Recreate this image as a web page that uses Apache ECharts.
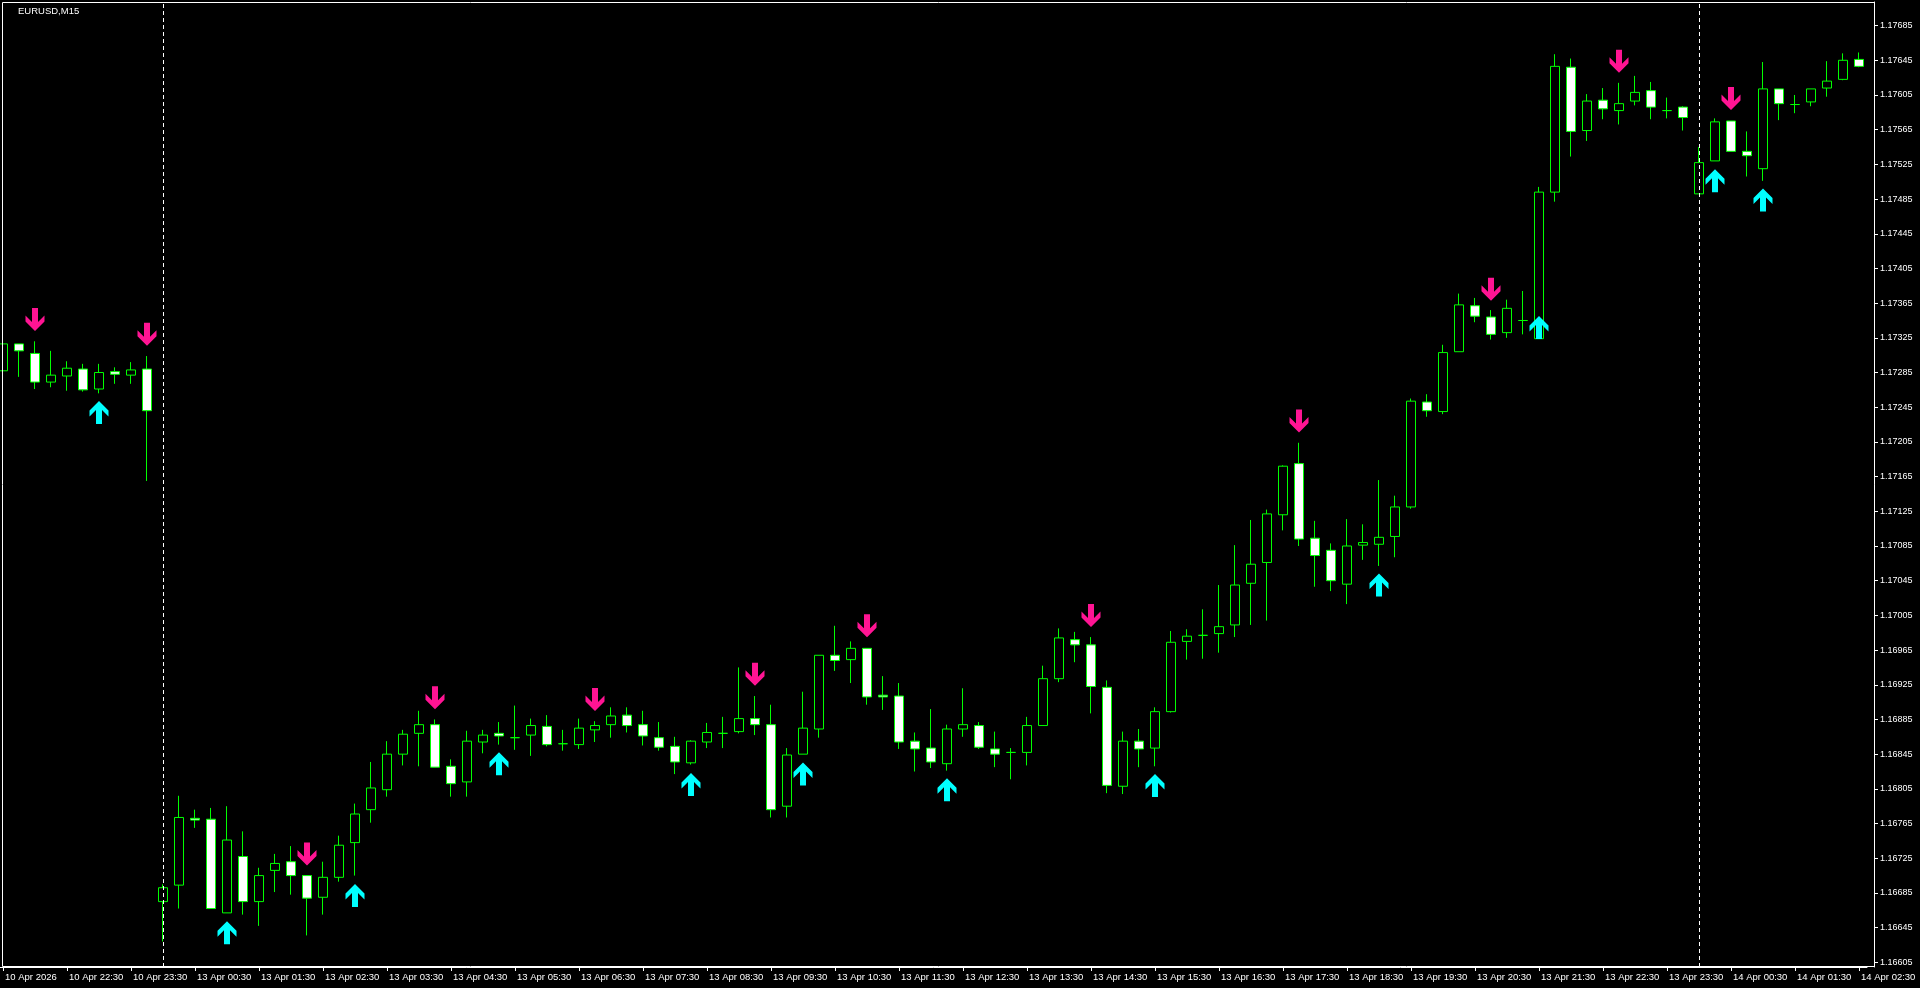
<!DOCTYPE html>
<html><head><meta charset="utf-8">
<script src="https://cdn.jsdelivr.net/npm/echarts@6/dist/echarts.min.js"></script>
<style>html,body{margin:0;padding:0;background:#000;}#chart{width:1920px;height:988px;}</style>
</head><body><div id="chart"></div>
<script>
const symbolTitle = 'EURUSD,M15';
// [day, first bar minute of day, bar count] – 15 minute bars
const barBlocks = [['10 Apr', 21 * 60 + 30, 10], ['13 Apr', 0, 96], ['14 Apr', 0, 11]];
const firstTickLabel = '10 Apr 2026';
const periodSeparators = ['13 Apr 00:00', '14 Apr 00:00'];
const priceTicks = [1.16605, 1.16645, 1.16685, 1.16725, 1.16765, 1.16805, 1.16845, 1.16885, 1.16925, 1.16965,
  1.17005, 1.17045, 1.17085, 1.17125, 1.17165, 1.17205, 1.17245, 1.17285, 1.17325, 1.17365,
  1.17405, 1.17445, 1.17485, 1.17525, 1.17565, 1.17605, 1.17645, 1.17685];

// bars: [open, close, low, high]
const apr10Bars = [
  [1.17287, 1.17318, 1.17281, 1.17348],
  [1.17318, 1.17310, 1.17280, 1.17318],
  [1.17307, 1.17274, 1.17266, 1.17321],
  [1.17274, 1.17282, 1.17268, 1.17310],
  [1.17281, 1.17290, 1.17264, 1.17298],
  [1.17289, 1.17265, 1.17263, 1.17295],
  [1.17266, 1.17285, 1.17261, 1.17295],
  [1.17286, 1.17283, 1.17272, 1.17291],
  [1.17282, 1.17288, 1.17272, 1.17297],
  [1.17289, 1.17241, 1.17160, 1.17304]
];
const apr13Bars = [
  [1.16675, 1.16691, 1.16629, 1.16695],
  [1.16694, 1.16772, 1.16667, 1.16797],
  [1.16771, 1.16769, 1.16760, 1.16781],
  [1.16770, 1.16667, 1.16667, 1.16783],
  [1.16662, 1.16746, 1.16662, 1.16785],
  [1.16727, 1.16675, 1.16660, 1.16756],
  [1.16675, 1.16705, 1.16647, 1.16714],
  [1.16711, 1.16719, 1.16686, 1.16730],
  [1.16721, 1.16705, 1.16683, 1.16739],
  [1.16705, 1.16679, 1.16636, 1.16705],
  [1.16680, 1.16703, 1.16660, 1.16721],
  [1.16703, 1.16740, 1.16698, 1.16751],
  [1.16743, 1.16776, 1.16705, 1.16788],
  [1.16781, 1.16806, 1.16766, 1.16836],
  [1.16804, 1.16845, 1.16796, 1.16860],
  [1.16845, 1.16868, 1.16832, 1.16873],
  [1.16869, 1.16879, 1.16831, 1.16895],
  [1.16879, 1.16830, 1.16830, 1.16885],
  [1.16831, 1.16811, 1.16796, 1.16839],
  [1.16813, 1.16860, 1.16796, 1.16872],
  [1.16859, 1.16867, 1.16846, 1.16873],
  [1.16869, 1.16866, 1.16856, 1.16882],
  [1.16864, 1.16864, 1.16850, 1.16901],
  [1.16867, 1.16878, 1.16843, 1.16886],
  [1.16877, 1.16856, 1.16854, 1.16890],
  [1.16857, 1.16857, 1.16849, 1.16873],
  [1.16856, 1.16875, 1.16851, 1.16886],
  [1.16873, 1.16878, 1.16859, 1.16883],
  [1.16879, 1.16889, 1.16864, 1.16899],
  [1.16890, 1.16878, 1.16870, 1.16899],
  [1.16879, 1.16866, 1.16855, 1.16895],
  [1.16864, 1.16853, 1.16849, 1.16882],
  [1.16854, 1.16836, 1.16822, 1.16865],
  [1.16835, 1.16860, 1.16833, 1.16861],
  [1.16859, 1.16870, 1.16852, 1.16881],
  [1.16869, 1.16869, 1.16852, 1.16888],
  [1.16871, 1.16886, 1.16869, 1.16945],
  [1.16886, 1.16879, 1.16867, 1.16912],
  [1.16879, 1.16781, 1.16772, 1.16902],
  [1.16785, 1.16844, 1.16772, 1.16852],
  [1.16845, 1.16875, 1.16845, 1.16917],
  [1.16874, 1.16959, 1.16864, 1.16959],
  [1.16959, 1.16953, 1.16941, 1.16993],
  [1.16954, 1.16967, 1.16927, 1.16975],
  [1.16967, 1.16911, 1.16902, 1.16967],
  [1.16913, 1.16911, 1.16896, 1.16935],
  [1.16912, 1.16859, 1.16851, 1.16927],
  [1.16860, 1.16851, 1.16825, 1.16870],
  [1.16852, 1.16836, 1.16829, 1.16897],
  [1.16834, 1.16874, 1.16826, 1.16879],
  [1.16874, 1.16879, 1.16865, 1.16921],
  [1.16878, 1.16853, 1.16851, 1.16882],
  [1.16851, 1.16845, 1.16830, 1.16871],
  [1.16847, 1.16847, 1.16816, 1.16852],
  [1.16847, 1.16878, 1.16832, 1.16888],
  [1.16878, 1.16932, 1.16878, 1.16947],
  [1.16932, 1.16979, 1.16928, 1.16990],
  [1.16977, 1.16971, 1.16951, 1.16986],
  [1.16971, 1.16923, 1.16892, 1.16980],
  [1.16922, 1.16809, 1.16800, 1.16930],
  [1.16808, 1.16860, 1.16799, 1.16871],
  [1.16860, 1.16851, 1.16830, 1.16874],
  [1.16852, 1.16894, 1.16831, 1.16899],
  [1.16894, 1.16974, 1.16893, 1.16987],
  [1.16975, 1.16981, 1.16954, 1.16989],
  [1.16982, 1.16982, 1.16955, 1.17012],
  [1.16984, 1.16992, 1.16962, 1.17040],
  [1.16994, 1.17040, 1.16980, 1.17086],
  [1.17042, 1.17064, 1.16994, 1.17115],
  [1.17066, 1.17122, 1.16999, 1.17127],
  [1.17121, 1.17177, 1.17103, 1.17178],
  [1.17180, 1.17093, 1.17085, 1.17204],
  [1.17094, 1.17074, 1.17038, 1.17114],
  [1.17080, 1.17045, 1.17033, 1.17088],
  [1.17041, 1.17085, 1.17018, 1.17116],
  [1.17086, 1.17089, 1.17069, 1.17110],
  [1.17087, 1.17095, 1.17062, 1.17161],
  [1.17096, 1.17130, 1.17072, 1.17143],
  [1.17130, 1.17252, 1.17128, 1.17255],
  [1.17251, 1.17241, 1.17234, 1.17260],
  [1.17240, 1.17308, 1.17237, 1.17317],
  [1.17309, 1.17363, 1.17309, 1.17376],
  [1.17362, 1.17350, 1.17343, 1.17371],
  [1.17349, 1.17329, 1.17323, 1.17357],
  [1.17331, 1.17359, 1.17325, 1.17369],
  [1.17345, 1.17345, 1.17329, 1.17379],
  [1.17324, 1.17493, 1.17324, 1.17499],
  [1.17493, 1.17638, 1.17482, 1.17652],
  [1.17637, 1.17563, 1.17534, 1.17647],
  [1.17564, 1.17598, 1.17552, 1.17606],
  [1.17599, 1.17589, 1.17577, 1.17613],
  [1.17587, 1.17595, 1.17571, 1.17619],
  [1.17598, 1.17608, 1.17593, 1.17627],
  [1.17610, 1.17591, 1.17577, 1.17620],
  [1.17587, 1.17587, 1.17578, 1.17602],
  [1.17591, 1.17579, 1.17564, 1.17592]
];
const apr14Bars = [
  [1.17491, 1.17527, 1.17491, 1.17545],
  [1.17529, 1.17574, 1.17529, 1.17578],
  [1.17575, 1.17540, 1.17540, 1.17575],
  [1.17540, 1.17535, 1.17511, 1.17563],
  [1.17520, 1.17612, 1.17506, 1.17643],
  [1.17612, 1.17595, 1.17576, 1.17612],
  [1.17594, 1.17594, 1.17584, 1.17605],
  [1.17597, 1.17612, 1.17592, 1.17612],
  [1.17613, 1.17621, 1.17603, 1.17644],
  [1.17623, 1.17645, 1.17622, 1.17653],
  [1.17646, 1.17638, 1.17637, 1.17654]
];
// arrow signals: [bar index, price at arrow centre]
const buySignals = [[6, 1.17239], [14, 1.16639], [22, 1.16682], [31, 1.16834], [43, 1.16810], [50, 1.16822],
  [59, 1.16804], [72, 1.16809], [86, 1.17040], [96, 1.17337], [107, 1.17506], [110, 1.17484]];
const sellSignals = [[2, 1.17346], [9, 1.17329], [19, 1.16730], [27, 1.16910], [37, 1.16908], [47, 1.16937],
  [54, 1.16993], [68, 1.17005], [81, 1.17229], [93, 1.17381], [101, 1.17644], [108, 1.17601]];

const categories = [];
barBlocks.forEach(([day, start, count]) => {
  for (let k = 0; k < count; k++) {
    const m = start + 15 * k;
    const hh = String(Math.floor(m / 60)).padStart(2, '0');
    const mm = String(m % 60).padStart(2, '0');
    categories.push(day + ' ' + hh + ':' + mm);
  }
});
const bars = apr10Bars.concat(apr13Bars, apr14Bars);

const FONT = '"Liberation Sans", Arial, sans-serif';
const GREEN = '#00FF00';
const upPath = 'path://M9.5 0 L19 9.5 L19 15.5 L12.5 9 L12.5 23 L6.5 23 L6.5 9 L0 15.5 L0 9.5 Z';
const downPath = 'path://M9.5 23 L19 13.5 L19 7.5 L12.5 14 L12.5 0 L6.5 0 L6.5 14 L0 7.5 L0 13.5 Z';

const chart = echarts.init(document.getElementById('chart'), null, { renderer: 'canvas' });
chart.setOption({
  backgroundColor: '#000000',
  animation: false,
  grid: { left: -5, top: 2, width: 1872, height: 965, containLabel: false, outerBoundsMode: 'none' },
  xAxis: {
    type: 'category', data: categories, boundaryGap: true,
    axisLine: { show: true, lineStyle: { color: '#ffffff', width: 1 } },
    axisTick: { show: true, interval: 3, alignWithLabel: true, length: 4, lineStyle: { color: '#ffffff' } },
    axisLabel: {
      interval: 3, align: 'left', padding: [0, 0, 0, 2], margin: 5,
      color: '#ffffff', fontSize: 9.5, fontFamily: FONT,
      formatter: (v, idx) => idx === 0 ? firstTickLabel : v
    },
    splitLine: { show: false }
  },
  yAxis: {
    type: 'value', position: 'right', offset: 7,
    min: 1.165996, max: 1.177122,
    axisLine: { show: true, lineStyle: { color: '#ffffff', width: 1 } },
    axisTick: { show: true, length: 4, customValues: priceTicks, lineStyle: { color: '#ffffff' } },
    axisLabel: {
      customValues: priceTicks, margin: 6, color: '#ffffff', fontSize: 9, fontFamily: FONT,
      formatter: v => Number(v).toFixed(5)
    },
    splitLine: { show: false }
  },
  graphic: [
    { type: 'rect', silent: true, z: 100,
      shape: { x: 2.5, y: 2.5, width: 1872, height: 964 },
      style: { fill: null, stroke: '#ffffff', lineWidth: 1 } },
    { type: 'text', silent: true, z: 100, left: 18, top: 6,
      style: { text: symbolTitle, fill: '#ffffff', font: '9.5px ' + FONT } }
  ],
  series: [
    {
      type: 'candlestick', data: bars, barWidth: 10,
      itemStyle: { color: '#000000', color0: '#ffffff', borderColor: GREEN, borderColor0: GREEN, borderColorDoji: GREEN, borderWidth: 1, opacity: 1 },
      markLine: {
        silent: true, symbol: ['none', 'none'], label: { show: false },
        lineStyle: { color: '#ffffff', type: [4, 3], width: 1, opacity: 1 },
        data: periodSeparators.map(s => ({ xAxis: s }))
      },
      z: 2
    },
    {
      type: 'scatter', data: buySignals, symbol: upPath, symbolSize: [19, 23],
      itemStyle: { color: '#00FFFF', opacity: 1 }, z: 5
    },
    {
      type: 'scatter', data: sellSignals, symbol: downPath, symbolSize: [19, 23],
      itemStyle: { color: '#FF1493', opacity: 1 }, z: 5
    }
  ]
});
</script>
</body></html>
